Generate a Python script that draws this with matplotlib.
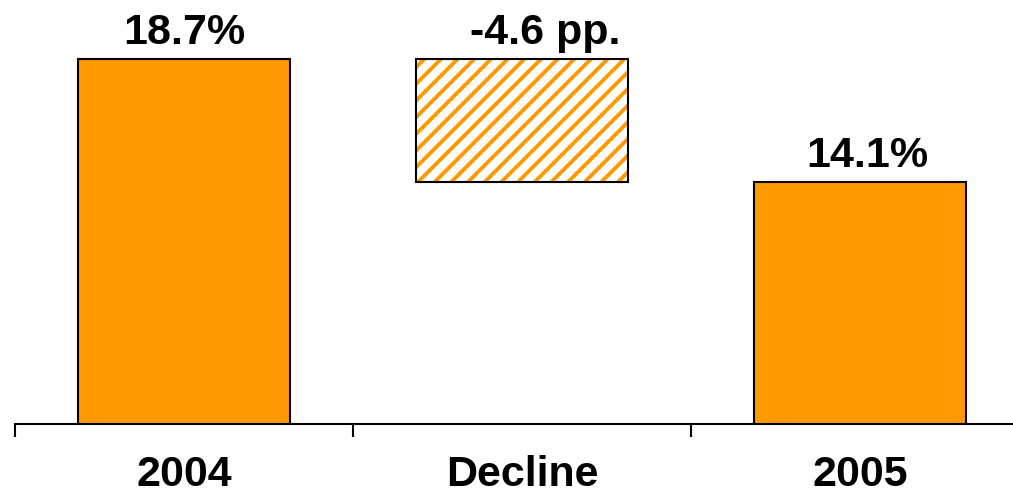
import matplotlib
matplotlib.use("Agg")
import matplotlib.pyplot as plt

# Dados do gráfico (cascata)
categorias = ["2004", "Decline", "2005"]
valor_2004 = 18.7
variacao = -4.6
valor_2005 = 14.1
rotulos = ["18.7%", "-4.6 pp.", "14.1%"]

laranja = "#FF9900"
base = 5.05  # eixo y não começa em zero

plt.rcParams["font.family"] = ["Liberation Sans", "DejaVu Sans"]
plt.rcParams["hatch.linewidth"] = 2.8

fig = plt.figure(figsize=(10.13, 4.98), dpi=100)
ax = fig.add_axes([15 / 1013, 74 / 498, 1014 / 1013, 424 / 498])

x = range(len(categorias))
largura = 0.625

# barra 2004
ax.bar(0, valor_2004 - base, bottom=base, width=largura, color=laranja,
       edgecolor="black", linewidth=1.5, zorder=3)

# barra de variação (hachurada)
topo = valor_2004
fundo = valor_2004 + variacao
ax.bar(1, topo - fundo, bottom=fundo, width=largura, color="white",
       edgecolor=laranja, hatch="//", linewidth=0, zorder=3)
ax.bar(1, topo - fundo, bottom=fundo, width=largura, fill=False,
       edgecolor="black", linewidth=1.5, zorder=4)

# barra 2005
ax.bar(2, valor_2005 - base, bottom=base, width=largura, color=laranja,
       edgecolor="black", linewidth=1.5, zorder=3)

# rótulos acima das barras
tops = [valor_2004, valor_2004, valor_2005]
desloc = [0, 16.5, 5]
for i, (t, r) in enumerate(zip(tops, rotulos)):
    ax.annotate(r, (i, t), xytext=(desloc[i], 11), textcoords="offset points",
                ha="center", va="baseline", fontsize=31, fontweight="bold")

ax.set_xlim(-0.5, 2.5)
ax.set_ylim(base, base + 424 / 26.74)

for s in ["top", "right", "left"]:
    ax.spines[s].set_visible(False)
ax.spines["bottom"].set_linewidth(1.5)
ax.yaxis.set_visible(False)

ax.set_xticks([-0.5, 0.5, 1.5, 2.5])
ax.set_xticklabels([])
ax.tick_params(axis="x", which="major", length=9, width=1.5, direction="out")
ax.set_xticks(list(x), minor=True)
ax.set_xticklabels(categorias, minor=True, fontsize=31, fontweight="bold")
ax.tick_params(axis="x", which="minor", length=0, pad=22)

fig.savefig("out.png", dpi=100)
